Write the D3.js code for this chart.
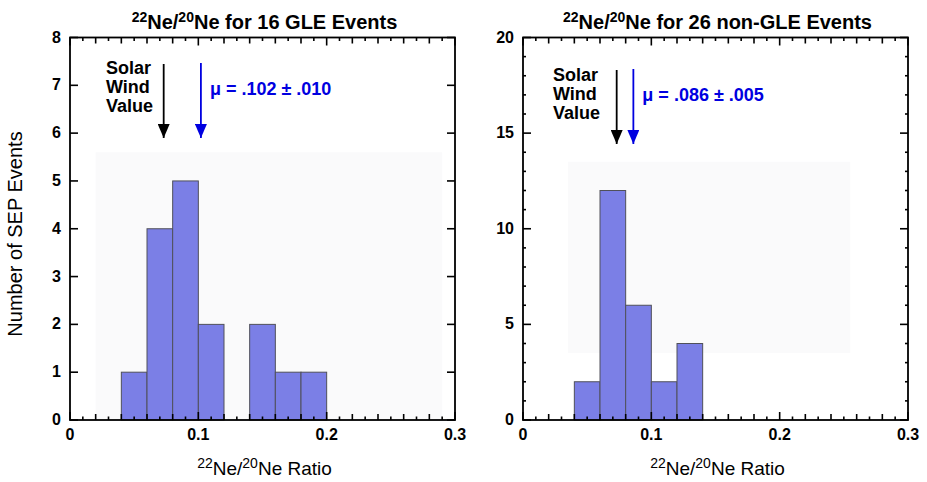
<!DOCTYPE html>
<meta charset="utf-8">
<script src="https://d3js.org/d3.v7.min.js"></script>
<style>
  body { margin: 0; background: #fff; }
  text { font-family: "Liberation Sans", Arial, Helvetica, sans-serif; }
</style>
<svg id="chart" width="927" height="482"></svg>
<script>

// bin edges (22Ne/20Ne ratio), bin width 0.02
var gleBinStart = [0.04, 0.06, 0.08, 0.10, 0.12, 0.14, 0.16, 0.18];
var gleCounts   = [1, 4, 5, 2, 0, 2, 1, 1];
var nonBinStart = [0.04, 0.06, 0.08, 0.10, 0.12];
var nonCounts   = [2, 12, 6, 2, 4];
var binWidth = 0.02;

var xTickLabels = ["0", "0.1", "0.2", "0.3"];
var gleYTicks = [0, 1, 2, 3, 4, 5, 6, 7, 8];
var nonYTicks = [0, 5, 10, 15, 20];

var solarWind = 0.073;
var gleMean = 0.102, nonMean = 0.086;
var gleMeanLabel = "\u03bc = .102 \u00b1 .010";
var nonMeanLabel = "\u03bc = .086 \u00b1 .005";

var svg = d3.select("#chart");
var defs = svg.append("defs");

function arrowHead(id, color) {
  defs.append("marker")
    .attr("id", id).attr("viewBox", "0 0 14 12")
    .attr("refX", 14).attr("refY", 6)
    .attr("markerWidth", 14).attr("markerHeight", 12)
    .attr("markerUnits", "userSpaceOnUse")
    .attr("orient", "auto")
    .append("path").attr("d", "M0,0 L14,6 L0,12 z").attr("fill", color);
}
arrowHead("headK", "#000");
arrowHead("headB", "#0000e0");

function drawPanel(p) {
  var g = svg.append("g");
  var x = d3.scaleLinear().domain([0, 0.3]).range([p.left, p.right]);
  var y = d3.scaleLinear().domain([0, p.yMax]).range([420, 37.5]);

  // faint backdrop seen in the scan
  g.append("rect")
    .attr("x", x(p.bg[0])).attr("y", y(p.bg[3]))
    .attr("width", x(p.bg[1]) - x(p.bg[0]))
    .attr("height", y(p.bg[2]) - y(p.bg[3]))
    .attr("fill", "#fafafb");

  // bars
  g.selectAll(".bar")
    .data(p.starts.map(function(s, i) { return { s: s, c: p.counts[i] }; }).filter(function(d) { return d.c > 0; }))
    .enter().append("rect")
      .attr("class", "bar")
      .attr("x", function(d) { return x(d.s); })
      .attr("y", function(d) { return y(d.c); })
      .attr("width", function(d) { return x(d.s + binWidth) - x(d.s); })
      .attr("height", function(d) { return y(0) - y(d.c); })
      .attr("fill", "#7b7fe6")
      .attr("stroke", "#50505a")
      .attr("stroke-width", 1);

  // x ticks every 0.01, taller at even hundredths, on bottom and top
  var xt = d3.range(0, 31).map(function(i) { return i / 100; });
  [[420, -1], [37.5, 1]].forEach(function(side) {
    g.selectAll(null).data(xt).enter().append("line")
      .attr("x1", function(d) { return x(d); })
      .attr("x2", function(d) { return x(d); })
      .attr("y1", side[0])
      .attr("y2", function(d, i) {
        var len = (i % 10 === 0) ? 8 : (i % 2 === 0 ? 6 : 3.5);
        return side[0] + side[1] * len;
      })
      .attr("stroke", "#000").attr("stroke-width", 1.6);
  });

  // y ticks, left and right
  var yt = d3.range(0, p.yMax + 1);
  [[p.left, 1], [p.right, -1]].forEach(function(side) {
    g.selectAll(null).data(yt).enter().append("line")
      .attr("y1", function(d) { return y(d); })
      .attr("y2", function(d) { return y(d); })
      .attr("x1", side[0])
      .attr("x2", function(d) {
        var len = p.yTicks.indexOf(d) >= 0 ? 8 : 3;
        return side[0] + side[1] * len;
      })
      .attr("stroke", "#000").attr("stroke-width", 1.6);
  });

  // frame
  g.append("rect")
    .attr("x", p.left).attr("y", 37.5)
    .attr("width", p.right - p.left).attr("height", 420 - 37.5)
    .attr("fill", "none").attr("stroke", "#000").attr("stroke-width", 1.8);

  // tick labels
  g.selectAll(null).data(xTickLabels).enter().append("text")
    .attr("x", function(d) { return x(+d); })
    .attr("y", 440)
    .attr("text-anchor", "middle")
    .attr("font-size", 16).attr("font-weight", "bold")
    .text(function(d) { return d; });

  g.selectAll(null).data(p.yTicks).enter().append("text")
    .attr("x", p.left - 9)
    .attr("y", function(d) { return y(d) + 5; })
    .attr("text-anchor", "end")
    .attr("font-size", 16).attr("font-weight", "bold")
    .text(function(d) { return d; });

  // title
  var t = g.append("text")
    .attr("x", (p.left + p.right) / 2 + 2).attr("y", 29)
    .attr("text-anchor", "middle")
    .attr("font-size", 20).attr("font-weight", "bold");
  t.append("tspan").attr("font-size", 14).attr("dy", -7).text("22");
  t.append("tspan").attr("dy", 7).text("Ne/");
  t.append("tspan").attr("font-size", 14).attr("dy", -7).text("20");
  t.append("tspan").attr("dy", 7).text("Ne " + p.title);

  // x axis label
  var xl = g.append("text")
    .attr("x", (p.left + p.right) / 2 + 2).attr("y", 475)
    .attr("text-anchor", "middle")
    .attr("font-size", 19).attr("font-weight", 500);
  xl.append("tspan").attr("font-size", 14).attr("dy", -7).text("22");
  xl.append("tspan").attr("dy", 7).text("Ne/");
  xl.append("tspan").attr("font-size", 14).attr("dy", -7).text("20");
  xl.append("tspan").attr("dy", 7).text("Ne Ratio");

  // solar wind arrow and label
  g.append("line")
    .attr("x1", x(solarWind)).attr("x2", x(solarWind))
    .attr("y1", p.arrowTop).attr("y2", p.arrowTip)
    .attr("stroke", "#000").attr("stroke-width", 1.8)
    .attr("marker-end", "url(#headK)");
  ["Solar", "Wind", "Value"].forEach(function(s, i) {
    g.append("text")
      .attr("x", p.swTextX).attr("y", p.swTextY + i * 19)
      .attr("font-size", 18).attr("font-weight", "bold")
      .text(s);
  });

  // mean arrow and label
  g.append("line")
    .attr("x1", x(p.mean)).attr("x2", x(p.mean))
    .attr("y1", p.arrowTop - 1).attr("y2", p.arrowTip)
    .attr("stroke", "#0000e0").attr("stroke-width", 1.8)
    .attr("marker-end", "url(#headB)");
  g.append("text")
    .attr("x", x(p.mean) + 9).attr("y", p.meanTextY)
    .attr("font-size", 18).attr("font-weight", "bold")
    .attr("fill", "#0000e0")
    .text(p.meanLabel);
}

drawPanel({
  left: 70, right: 455, yMax: 8, yTicks: gleYTicks,
  starts: gleBinStart, counts: gleCounts,
  title: "for 16 GLE Events",
  bg: [0.02, 0.29, 0.01, 5.6],
  arrowTop: 64, arrowTip: 138,
  swTextX: 106, swTextY: 74,
  mean: gleMean, meanLabel: gleMeanLabel, meanTextY: 95
});

drawPanel({
  left: 523, right: 908, yMax: 20, yTicks: nonYTicks,
  starts: nonBinStart, counts: nonCounts,
  title: "for 26 non-GLE Events",
  bg: [0.035, 0.255, 3.5, 13.5],
  arrowTop: 70, arrowTip: 144,
  swTextX: 553, swTextY: 81,
  mean: nonMean, meanLabel: nonMeanLabel, meanTextY: 101
});

// shared y axis label
svg.append("text")
  .attr("transform", "translate(22,234) rotate(-90)")
  .attr("text-anchor", "middle")
  .attr("font-size", 20).attr("font-weight", 500)
  .text("Number of SEP Events");

</script>
